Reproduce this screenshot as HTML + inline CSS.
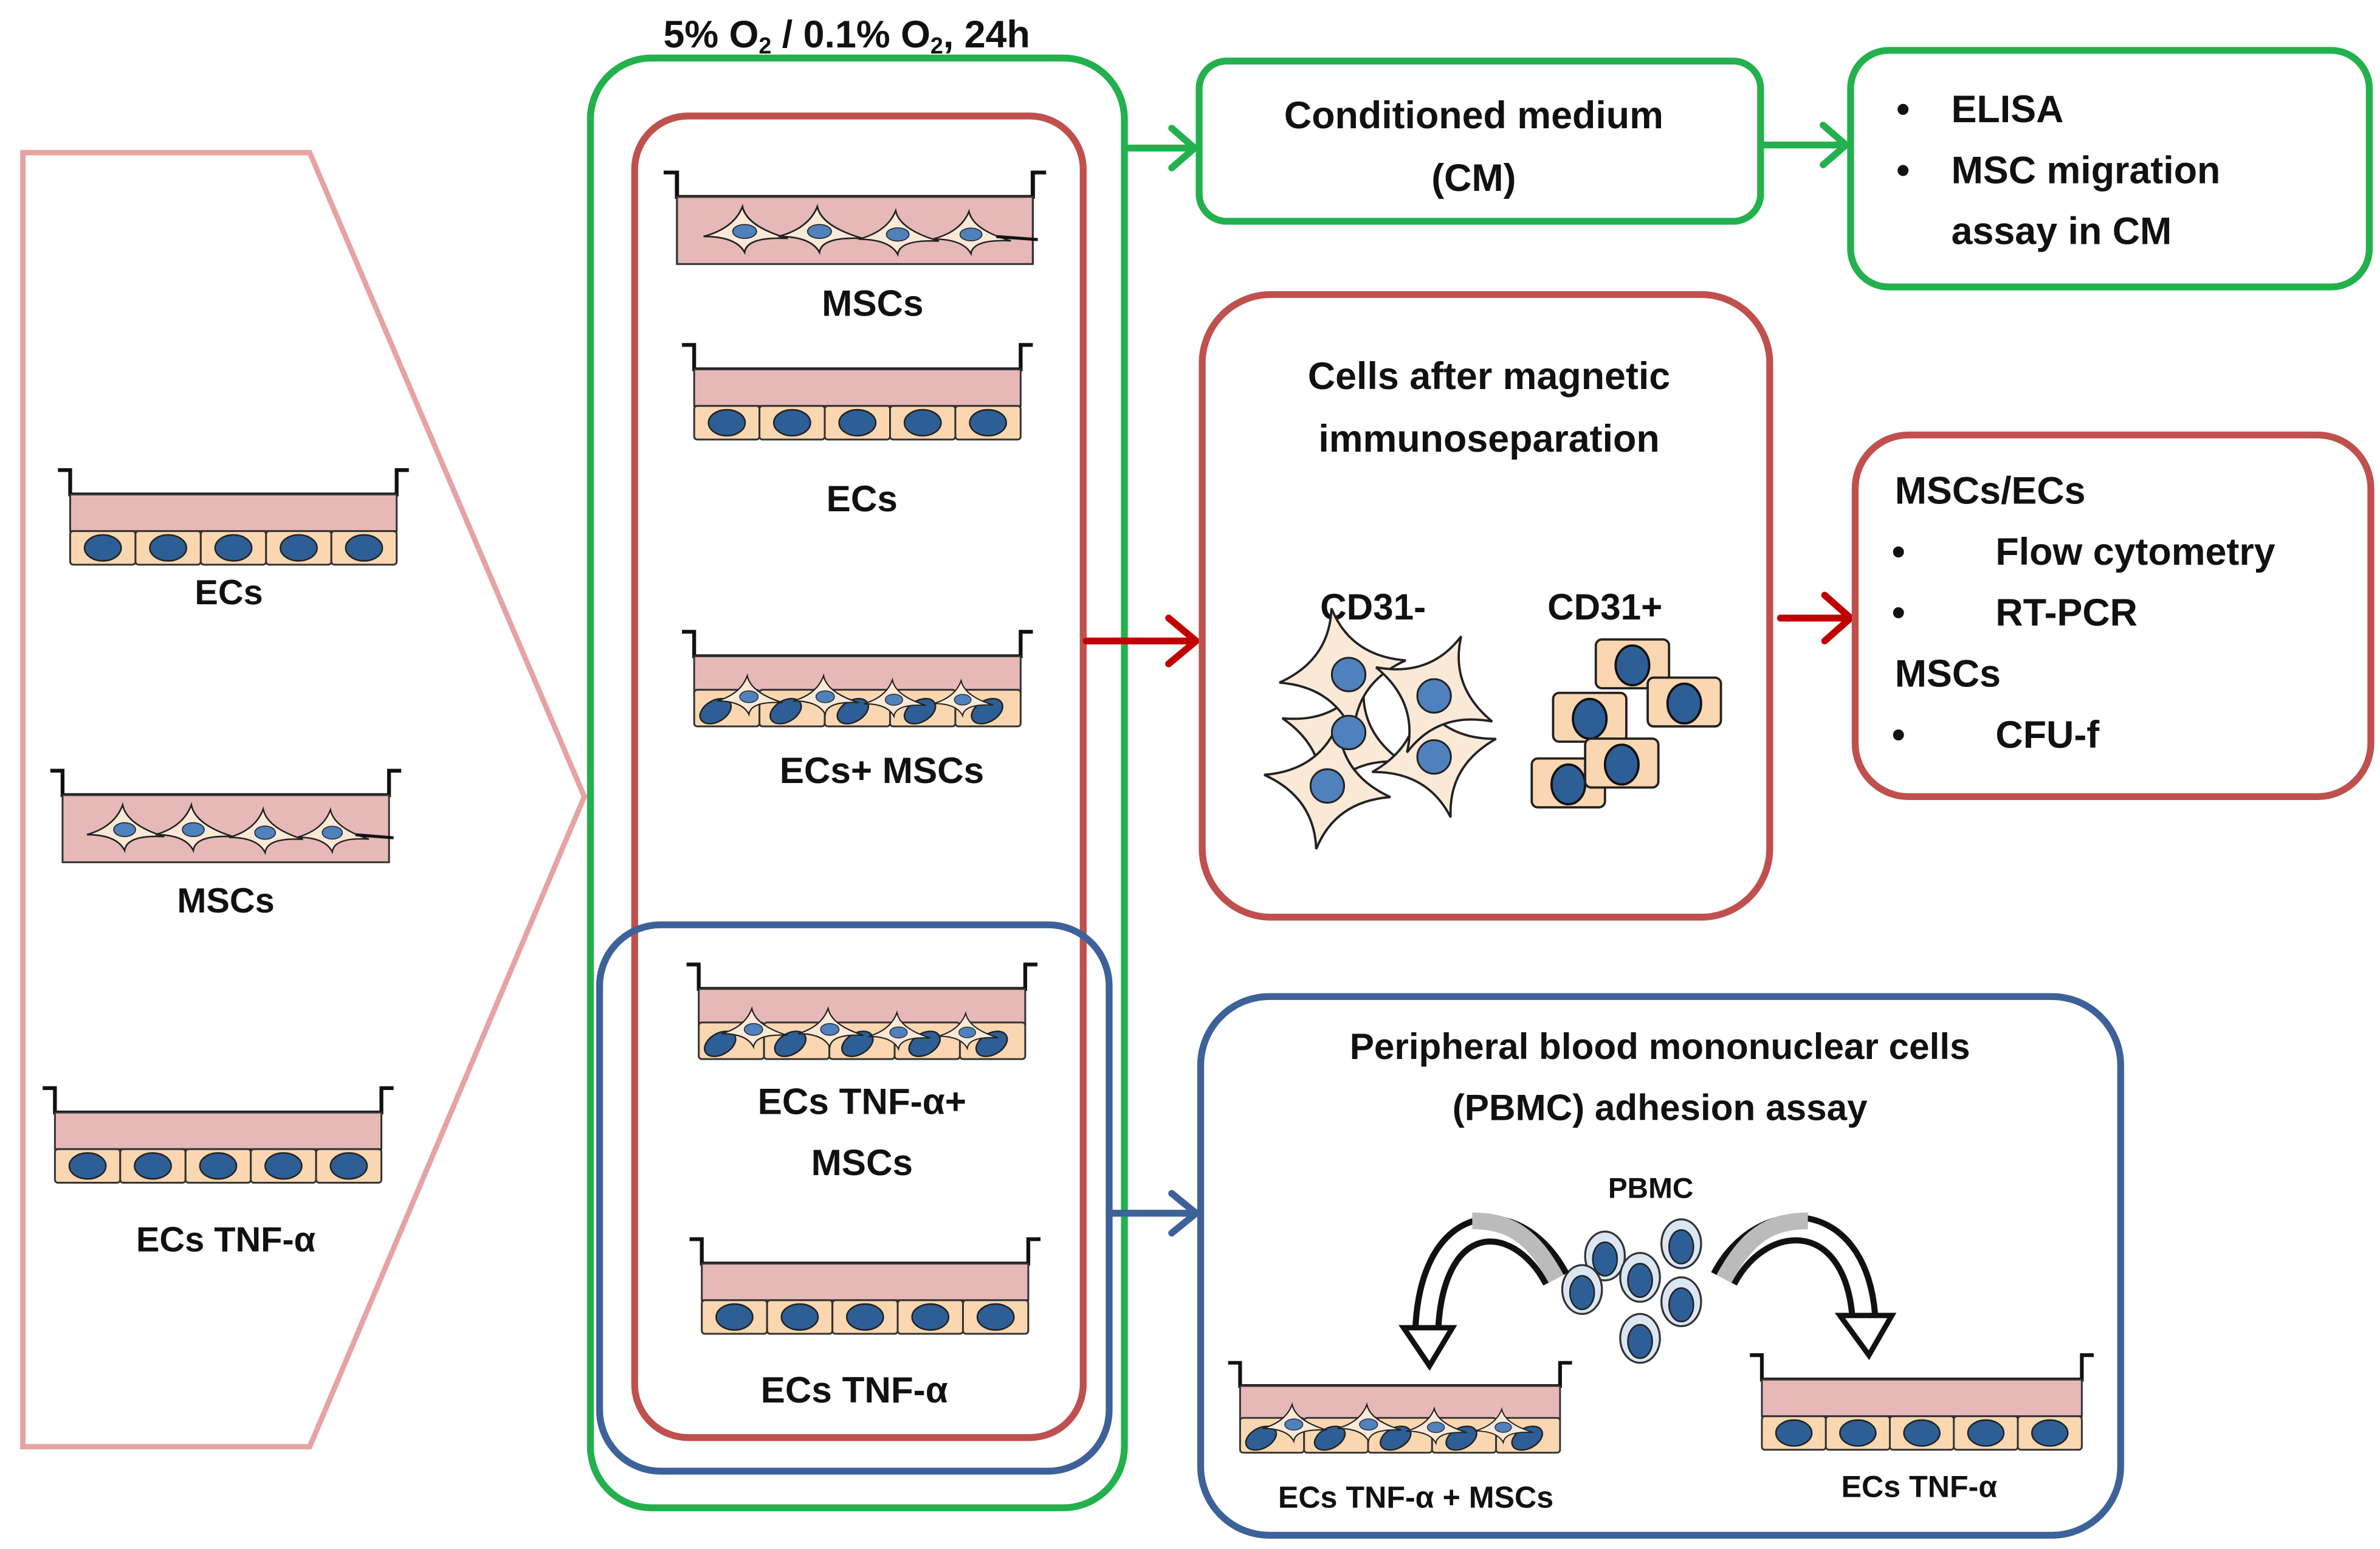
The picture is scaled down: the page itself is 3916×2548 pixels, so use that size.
<!DOCTYPE html>
<html><head><meta charset="utf-8"><style>
html,body{margin:0;padding:0;background:#fff}
svg{display:block}
text{font-family:"Liberation Sans",Arial,sans-serif;font-weight:bold;fill:#111}
</style></head><body>
<svg width="3916" height="2548" viewBox="0 0 1560 1015" xmlns="http://www.w3.org/2000/svg">
<defs>
<g id="star">
<path d="M-40,6 Q-12,-2 -4,-24 Q0,-4 38,8 Q0,6 -2,22 Q-10,6 -40,6Z" fill="#fbe9d7" stroke="#222" stroke-width="1.6"/>
<ellipse cx="-2" cy="1" rx="11" ry="7" fill="#4f81bd" stroke="#222" stroke-width="1"/>
</g>
<g id="lid"><path d="M0,0 h8 v16 h214 v-16 h8" fill="none" stroke="#111" stroke-width="2.5"/></g>
<g id="ec">
<use href="#lid"/>
<rect x="8" y="16" width="214" height="24" fill="#e6b8b7" stroke="#333" stroke-width="1.2"/>
<g fill="#fad7b0" stroke="#333" stroke-width="1.2">
<rect x="8" y="40" width="42.8" height="22" rx="2"/><rect x="50.8" y="40" width="42.8" height="22" rx="2"/><rect x="93.6" y="40" width="42.8" height="22" rx="2"/><rect x="136.4" y="40" width="42.8" height="22" rx="2"/><rect x="179.2" y="40" width="42.8" height="22" rx="2"/>
</g>
<g fill="#2e5e96" stroke="#222" stroke-width="1">
<ellipse cx="29.4" cy="51" rx="12" ry="8.5"/><ellipse cx="72.2" cy="51" rx="12" ry="8.5"/><ellipse cx="115" cy="51" rx="12" ry="8.5"/><ellipse cx="157.8" cy="51" rx="12" ry="8.5"/><ellipse cx="200.6" cy="51" rx="12" ry="8.5"/>
</g>
</g>
<g id="msc">
<use href="#lid"/>
<rect x="8" y="16" width="214" height="44" fill="#e6b8b7" stroke="#333" stroke-width="1.2"/>
<use href="#star" transform="translate(50,38) scale(0.65)"/><use href="#star" transform="translate(95,38) scale(0.65)"/><use href="#star" transform="translate(142,40) scale(0.62)"/><use href="#star" transform="translate(186,40) scale(0.6)"/>
<path d="M200,42 L225,44" stroke="#111" stroke-width="2"/>
</g>
<g id="mix">
<use href="#lid"/>
<rect x="8" y="16" width="214" height="24" fill="#e6b8b7" stroke="#333" stroke-width="1.2"/>
<g fill="#fad7b0" stroke="#333" stroke-width="1.2">
<rect x="8" y="38" width="42.8" height="24" rx="2"/><rect x="50.8" y="38" width="42.8" height="24" rx="2"/><rect x="93.6" y="38" width="42.8" height="24" rx="2"/><rect x="136.4" y="38" width="42.8" height="24" rx="2"/><rect x="179.2" y="38" width="42.8" height="24" rx="2"/>
</g>
<g fill="#2e5e96" stroke="#222" stroke-width="1">
<ellipse cx="22" cy="52" rx="11" ry="7" transform="rotate(-30 22 52)"/><ellipse cx="68" cy="52" rx="11" ry="7" transform="rotate(-30 68 52)"/><ellipse cx="112" cy="52" rx="11" ry="7" transform="rotate(-30 112 52)"/><ellipse cx="156" cy="52" rx="11" ry="7" transform="rotate(-30 156 52)"/><ellipse cx="200" cy="52" rx="11" ry="7" transform="rotate(-30 200 52)"/>
</g>
<use href="#star" transform="translate(45,42) scale(0.55)"/><use href="#star" transform="translate(95,42) scale(0.55)"/><use href="#star" transform="translate(140,44) scale(0.52)"/><use href="#star" transform="translate(185,44) scale(0.5)"/>
</g>
<g id="bigstar">
<path d="M0,-42 Q7,-9 42,0 Q7,9 0,42 Q-7,9 -42,0 Q-7,-9 0,-42Z" fill="#fbe9d7" stroke="#222" stroke-width="1.5"/>
</g>
<g id="sq">
<rect x="-24" y="-16" width="48" height="32" rx="4" fill="#fad7b0" stroke="#222" stroke-width="1.5"/>
<ellipse cx="0" cy="1" rx="11" ry="13" fill="#2e5e96" stroke="#111" stroke-width="1.5"/>
</g>
<g id="pb">
<ellipse cx="0" cy="0" rx="13" ry="16" fill="#dbe6f3" stroke="#333" stroke-width="1.3"/>
<ellipse cx="0" cy="2" rx="8" ry="11" fill="#2e5e96" stroke="#222" stroke-width="1"/>
</g>
</defs>

<!-- left pentagon -->
<polygon points="15,100 203,100 383,522 203,948 15,948" fill="none" stroke="#e6a3a3" stroke-width="3.5"/>
<use href="#ec" transform="translate(38,308)"/>
<text x="150" y="396" font-size="23" text-anchor="middle">ECs</text>
<use href="#msc" transform="translate(33,505)"/>
<text x="148" y="598" font-size="23" text-anchor="middle">MSCs</text>
<use href="#ec" transform="translate(28,713)"/>
<text x="148" y="820" font-size="23" text-anchor="middle">ECs TNF-α</text>

<!-- middle -->
<text x="555" y="31" font-size="25" text-anchor="middle">5% O<tspan font-size="15" dy="4">2</tspan><tspan dy="-4"> / 0.1% O</tspan><tspan font-size="15" dy="4">2</tspan><tspan dy="-4">, 24h</tspan></text>
<rect x="387" y="38" width="350" height="950" rx="40" fill="none" stroke="#22b14c" stroke-width="4.5"/>
<rect x="416" y="76" width="294" height="866" rx="35" fill="none" stroke="#c0504d" stroke-width="4.5"/>
<rect x="393" y="606" width="334" height="358" rx="40" fill="none" stroke="#3d6199" stroke-width="4.5"/>
<use href="#msc" transform="translate(435,113) scale(1.09,1)"/>
<text x="572" y="207" font-size="24" text-anchor="middle">MSCs</text>
<use href="#ec" transform="translate(447,226)"/>
<text x="565" y="335" font-size="24" text-anchor="middle">ECs</text>
<use href="#mix" transform="translate(447,414)"/>
<text x="578" y="513" font-size="24" text-anchor="middle">ECs+ MSCs</text>
<use href="#mix" transform="translate(450,632)"/>
<text x="565" y="730" font-size="24" text-anchor="middle">ECs TNF-α+</text>
<text x="565" y="770" font-size="24" text-anchor="middle">MSCs</text>
<use href="#ec" transform="translate(452,812)"/>
<text x="560" y="919" font-size="24" text-anchor="middle">ECs TNF-α</text>

<!-- arrows -->
<g stroke-width="4.5" fill="none" stroke-linecap="round" stroke-linejoin="round">
<path d="M740,97 H782 M768,84 L783,97 L768,110" stroke="#22b14c"/>
<path d="M1157,95 H1209 M1195,82 L1210,95 L1195,108" stroke="#22b14c"/>
<path d="M712,420 H783 M766,405 L784,420 L766,435" stroke="#c00000"/>
<path d="M1167,405 H1212 M1196,390 L1213,405 L1196,420" stroke="#c00000"/>
<path d="M729,795 H783 M768,782 L784,795 L768,808" stroke="#3d6199"/>
</g>

<!-- CM box -->
<rect x="786" y="40" width="368" height="105" rx="18" fill="none" stroke="#22b14c" stroke-width="4.5"/>
<text x="966" y="84" font-size="25" text-anchor="middle">Conditioned medium</text>
<text x="966" y="125" font-size="25" text-anchor="middle">(CM)</text>
<rect x="1213" y="33" width="340" height="155" rx="25" fill="none" stroke="#22b14c" stroke-width="4.5"/>
<g font-size="25">
<text x="1243" y="80">•</text><text x="1279" y="80">ELISA</text>
<text x="1243" y="120">•</text><text x="1279" y="120">MSC migration</text>
<text x="1279" y="160">assay in CM</text>
</g>

<!-- red box -->
<rect x="788" y="193" width="372" height="408" rx="45" fill="none" stroke="#c0504d" stroke-width="4.5"/>
<text x="976" y="255" font-size="25" text-anchor="middle">Cells after magnetic</text>
<text x="976" y="296" font-size="25" text-anchor="middle">immunoseparation</text>
<text x="900" y="406" font-size="24" text-anchor="middle">CD31-</text>
<text x="1052" y="406" font-size="24" text-anchor="middle">CD31+</text>
<g>
<use href="#bigstar" transform="translate(880,485) rotate(20)"/>
<use href="#bigstar" transform="translate(940,495) rotate(-15)"/>
<use href="#bigstar" transform="translate(880,440) rotate(-10)"/>
<use href="#bigstar" transform="translate(940,455) rotate(25)"/>
<use href="#bigstar" transform="translate(870,515) rotate(10)"/>
<g fill="#4f81bd" stroke="#222" stroke-width="1.2">
<circle cx="884" cy="442" r="11"/><circle cx="940" cy="456" r="11"/><circle cx="884" cy="480" r="11"/><circle cx="940" cy="496" r="11"/><circle cx="870" cy="515" r="11"/>
</g>
</g>
<use href="#sq" transform="translate(1070,435)"/>
<use href="#sq" transform="translate(1104,460)"/>
<use href="#sq" transform="translate(1042,470)"/>
<use href="#sq" transform="translate(1028,513)"/>
<use href="#sq" transform="translate(1063,500)"/>

<rect x="1216" y="285" width="338" height="237" rx="35" fill="none" stroke="#c0504d" stroke-width="4.5"/>
<g font-size="25">
<text x="1242" y="330">MSCs/ECs</text>
<text x="1240" y="370">•</text><text x="1308" y="370">Flow cytometry</text>
<text x="1240" y="410">•</text><text x="1308" y="410">RT-PCR</text>
<text x="1242" y="450">MSCs</text>
<text x="1240" y="490">•</text><text x="1308" y="490">CFU-f</text>
</g>

<!-- blue box -->
<rect x="787" y="653" width="603" height="353" rx="45" fill="none" stroke="#3d6199" stroke-width="4.5"/>
<text x="1088" y="694" font-size="24" text-anchor="middle">Peripheral blood mononuclear cells</text>
<text x="1088" y="734" font-size="24" text-anchor="middle">(PBMC) adhesion assay</text>
<text x="1082" y="785" font-size="19" text-anchor="middle">PBMC</text>
<use href="#pb" transform="translate(1052,823)"/>
<use href="#pb" transform="translate(1102,815)"/>
<use href="#pb" transform="translate(1037,845)"/>
<use href="#pb" transform="translate(1075,837)"/>
<use href="#pb" transform="translate(1102,853)"/>
<use href="#pb" transform="translate(1075,877)"/>
<!-- curved arrows -->
<g fill="none" stroke-linecap="butt">
<path d="M1020,838 C995,790 935,790 935,880" stroke="#111" stroke-width="19"/>
<path d="M1020,838 C995,790 935,790 935,880" stroke="#fff" stroke-width="11"/>
<path d="M1020,838 C1005,810 990,800 965,800" stroke="#bbb" stroke-width="11"/>
<path d="M1130,838 C1155,790 1220,790 1222,870" stroke="#111" stroke-width="19"/>
<path d="M1130,838 C1155,790 1220,790 1222,870" stroke="#fff" stroke-width="11"/>
<path d="M1130,838 C1145,810 1160,800 1185,800" stroke="#bbb" stroke-width="11"/>
</g>
<polygon points="920,870 952,870 937,895" fill="#fff" stroke="#111" stroke-width="3.5"/>
<polygon points="1206,862 1240,862 1225,888" fill="#fff" stroke="#111" stroke-width="3.5"/>
<use href="#mix" transform="translate(805,893) scale(0.98,0.95)"/>
<text x="928" y="988" font-size="20" text-anchor="middle">ECs TNF-α + MSCs</text>
<use href="#ec" transform="translate(1147,888) scale(0.98,1)"/>
<text x="1258" y="981" font-size="20" text-anchor="middle">ECs TNF-α</text>
</svg>
</body></html>
